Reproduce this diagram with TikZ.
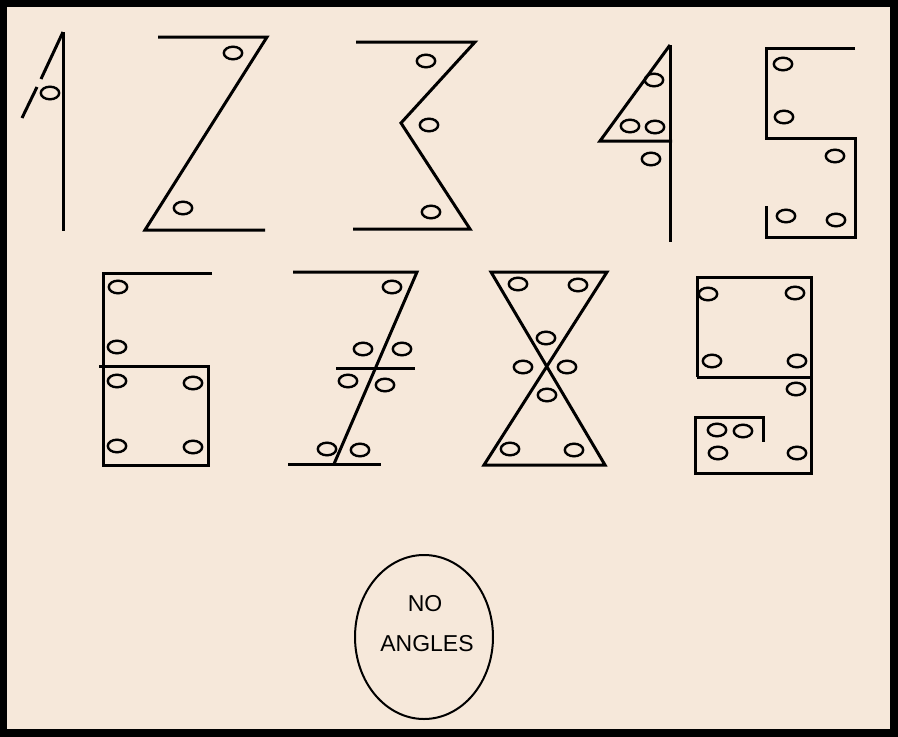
\documentclass[tikz,border=0pt]{standalone}
\usepackage{fontspec}
\setmainfont{Liberation Sans}
\definecolor{paper}{RGB}{246,232,218}

\begin{document}
\begin{tikzpicture}[x=1pt,y=-1pt,
      digit/.style={draw=black,line width=3pt},
      hole/.style={draw=black,line width=2.4pt},
      caption/.style={font=\fontsize{23}{27}\selectfont,inner sep=0pt}]
  \fill[black] (0,0) rectangle (898,737);
  \fill[paper] (7,7) rectangle (890,729);
  % one
  \draw[digit] (63,32) -- (63,231);
  \draw[digit] (63,32) -- (41,79) (37,87) -- (22,118);
  % two
  \draw[digit] (158,37) -- (267,37) -- (145,230) -- (265,230);
  % three
  \draw[digit] (356,42) -- (475,42) -- (401,123) -- (470,229) -- (353,229);
  % four
  \draw[digit] (670,45) -- (670,242);
  \draw[digit] (672,141) -- (600,141) -- (670,45);
  % five
  \draw[digit] (855,48) -- (766,48) -- (766,138) -- (855,138) -- (855,237) -- (766,237) -- (766,206);
  % six
  \draw[digit] (212,273) -- (103,273) -- (103,465) -- (208,465) -- (208,366) -- (99,366);
  % seven
  \draw[digit] (293,272) -- (417,272) -- (334,464);
  \draw[digit] (336,368) -- (415,368);
  \draw[digit] (288,464) -- (381,464);
  % eight
  \draw[digit] (491,272) -- (607,272) -- (484,465) -- (605,465) -- cycle;
  % nine
  \draw[digit] (697,377) -- (697,277) -- (811,277) -- (811,473) -- (695,473) -- (695,417) -- (763,417) -- (763,442);
  \draw[digit] (697,377) -- (813,377);
  % the holes
  \foreach \p in {(50,93),
      (233,53),(183,208),
      (426,61),(429,125),(431,212),
      (654,80),(630,126),(655,127),(651,159),
      (783,64),(784,117),(835,156),(786,216),(836,220),
      (118,287),(117,347),(117,381),(193,383),(117,446),(193,447),
      (392,287),(363,349),(402,349),(348,381),(385,385),(327,449),(360,450),
      (518,284),(578,285),(546,338),(523,367),(567,367),(547,395),(510,449),(574,450),
      (708,294),(795,293),(712,361),(797,361),(796,389),(717,430),(743,431),(718,453),(797,453)}
    \draw[hole] \p ellipse [x radius=9.2, y radius=6.3];
  % caption
  \draw[line width=2pt] (424,637) ellipse [x radius=69, y radius=82];
  \node[caption] (no) at (425,604) {NO};
  \node[caption] (angles) at (427,644) {ANGLES};
\end{tikzpicture}
\end{document}
